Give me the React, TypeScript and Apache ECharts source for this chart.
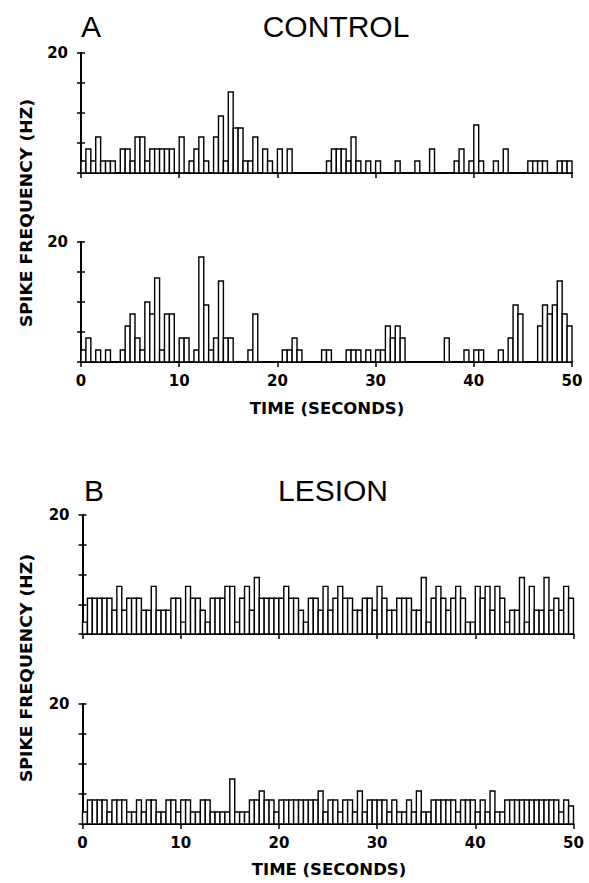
import React, { useEffect, useRef } from "react";
import * as echarts from "echarts";

// ---- data (spike frequency, Hz, per 0.5 s bin, 100 bins over 0-50 s) ----
const BIN_SECONDS = 0.5;
const X_TICKS = [0, 10, 20, 30, 40, 50];
const Y_MAX = 20;
const Y_STEP = 5;
const Y_LABELS = ["20"];

const CONTROL_TOP = [
  2, 4, 2, 6, 2, 2, 2, 0, 4, 4,
  2, 6, 6, 2, 4, 4, 4, 4, 4, 0,
  6, 0, 2, 4, 6, 2, 0, 6, 9.5, 2,
  13.5, 7.5, 7.5, 2, 2, 6, 0, 4, 2, 0,
  4, 0, 4, 0, 0, 0, 0, 0, 0, 0,
  2, 4, 4, 4, 2, 6, 2, 0, 2, 0,
  2, 0, 0, 0, 2, 0, 0, 0, 2, 0,
  0, 4, 0, 0, 0, 0, 2, 4, 0, 2,
  8, 2, 0, 0, 2, 0, 4, 0, 0, 0,
  0, 2, 2, 2, 2, 0, 0, 2, 2, 2,
];

const CONTROL_BOTTOM = [
  2, 4, 0, 2, 0, 2, 0, 0, 2, 6,
  8, 4, 2, 10, 8, 14, 2, 8, 8, 0,
  4, 4, 0, 2, 17.5, 9.5, 2, 4, 13.5, 4,
  4, 0, 0, 0, 2, 8, 0, 0, 0, 0,
  0, 2, 2, 4, 2, 0, 0, 0, 0, 2,
  2, 0, 0, 0, 2, 2, 2, 0, 2, 0,
  2, 2, 6, 4, 6, 4, 0, 0, 0, 0,
  0, 0, 0, 0, 4, 0, 0, 0, 2, 0,
  2, 2, 0, 0, 0, 2, 0, 4, 9.5, 8,
  0, 0, 0, 6, 9.5, 8, 9.5, 13.5, 8, 6,
];

const LESION_TOP = [
  2, 6, 6, 6, 6, 6, 4, 8, 4, 6,
  6, 6, 4, 4, 8, 4, 4, 4, 6, 6,
  2, 8, 6, 6, 4, 2, 6, 6, 6, 8,
  8, 2, 6, 8, 4, 9.5, 6, 6, 6, 6,
  6, 8, 6, 6, 4, 2, 6, 6, 4, 8,
  4, 6, 8, 6, 6, 4, 4, 6, 6, 4,
  8, 6, 4, 4, 6, 6, 6, 4, 4, 9.5,
  2, 6, 8, 6, 4, 6, 8, 6, 2, 2,
  8, 6, 8, 4, 8, 6, 2, 4, 4, 9.5,
  2, 8, 4, 4, 9.5, 4, 6, 4, 8, 6,
];

const LESION_BOTTOM = [
  2, 4, 4, 4, 4, 2, 4, 4, 4, 2,
  2, 4, 2, 4, 4, 2, 2, 4, 4, 2,
  4, 4, 2, 2, 4, 4, 2, 2, 2, 2,
  7.5, 2, 2, 2, 4, 4, 5.5, 4, 4, 2,
  4, 4, 4, 4, 4, 4, 4, 4, 5.5, 2,
  4, 4, 2, 4, 4, 2, 5.5, 2, 4, 4,
  4, 4, 2, 4, 2, 2, 4, 2, 5.5, 2,
  2, 4, 4, 4, 4, 4, 2, 4, 4, 4,
  2, 4, 2, 5.5, 2, 2, 4, 4, 4, 4,
  4, 4, 4, 4, 4, 4, 4, 2, 4, 3,
];

const PANELS = [CONTROL_TOP, CONTROL_BOTTOM, LESION_TOP, LESION_BOTTOM];

const TICK_FONT = "DejaVu Sans";
const TITLE_FONT = "Liberation Sans";

export default function App() {
  const ref = useRef<HTMLDivElement>(null);

  useEffect(() => {
    if (!ref.current) return;
    const chart = echarts.init(ref.current, undefined, { renderer: "svg" });

    const grids = [
      { left: 81, top: 53, width: 491, height: 120 },
      { left: 81, top: 242, width: 491, height: 120 },
      { left: 82.5, top: 515, width: 491, height: 119 },
      { left: 82.5, top: 704, width: 491, height: 120 },
    ];

    const xAxes = grids.map((_, k) => ({
      type: "value",
      gridIndex: k,
      min: 0,
      max: X_TICKS[X_TICKS.length - 1],
      interval: X_TICKS[1] - X_TICKS[0],
      axisLine: { show: true, onZero: false, lineStyle: { color: "#000", width: 2 } },
      axisTick: { show: true, length: 5, lineStyle: { color: "#000", width: 1.5 } },
      axisLabel: {
        show: k === 1 || k === 3,
        color: "#000",
        fontFamily: TICK_FONT,
        fontWeight: "bold",
        fontSize: 15,
        margin: 11,
      },
      splitLine: { show: false },
    }));

    const yAxes: any[] = [];
    grids.forEach((_, k) => {
      [false, true].forEach((inside) => {
        yAxes.push({
          type: "value",
          gridIndex: k,
          position: "left",
          offset: 0,
          min: 0,
          max: Y_MAX,
          interval: Y_STEP,
          axisLine: { show: true, onZero: false, lineStyle: { color: "#000", width: 1.8 } },
          axisTick: { show: true, inside, length: 4, lineStyle: { color: "#000", width: 1.5 } },
          axisLabel: {
            show: !inside,
            formatter: (v: number) => (Y_LABELS.includes(String(v)) ? String(v) : ""),
            color: "#000",
            fontFamily: TICK_FONT,
            fontWeight: "bold",
            fontSize: 15,
            margin: 13,
          },
          splitLine: { show: false },
        });
      });
    });

    const series = PANELS.map((vals, k) => ({
      type: "custom",
      xAxisIndex: k,
      yAxisIndex: k * 2,
      encode: { x: [0, 1], y: 2 },
      data: vals
        .map((v, i) => [i * BIN_SECONDS, (i + 1) * BIN_SECONDS, v])
        .filter((d) => d[2] > 0),
      renderItem: (_params: any, api: any) => {
        const p0 = api.coord([api.value(0), 0]);
        const p1 = api.coord([api.value(1), api.value(2)]);
        return {
          type: "rect",
          shape: { x: p0[0], y: p1[1], width: p1[0] - p0[0], height: p0[1] - p1[1] },
          style: { fill: "#fff", stroke: "#000", lineWidth: 1.4 },
        };
      },
      z: 3,
    }));

    const bigText = (text: string, x: number, y: number, align: string) => ({
      type: "text",
      x,
      y,
      style: {
        text,
        fill: "#000",
        fontFamily: TITLE_FONT,
        fontSize: 30,
        textAlign: align,
        textVerticalAlign: "middle",
      },
    });
    const boldText = (text: string, x: number, y: number, rot = 0, sx = 1) => ({
      type: "text",
      x,
      y,
      rotation: rot,
      scaleX: sx,
      style: {
        text,
        fill: "#000",
        fontFamily: TICK_FONT,
        fontWeight: "bold",
        fontSize: 15,
        textAlign: "center",
        textVerticalAlign: "middle",
      },
    });

    chart.setOption({
      animation: false,
      backgroundColor: "#fff",
      grid: grids,
      xAxis: xAxes,
      yAxis: yAxes,
      series,
      graphic: [
        bigText("A", 81, 26, "left"),
        bigText("CONTROL", 336, 26, "center"),
        bigText("B", 84, 490, "left"),
        bigText("LESION", 333, 490, "center"),
        boldText("SPIKE FREQUENCY (HZ)", 27, 213, Math.PI / 2, 1.15),
        boldText("SPIKE FREQUENCY (HZ)", 27, 668, Math.PI / 2, 1.15),
        boldText("TIME (SECONDS)", 327, 409, 0, 1.1),
        boldText("TIME (SECONDS)", 329, 870, 0, 1.1),
      ],
    });

    return () => chart.dispose();
  }, []);

  return (
    <div
      ref={ref}
      style={{ position: "fixed", left: 0, top: 0, width: 589, height: 883, background: "#fff" }}
    />
  );
}
